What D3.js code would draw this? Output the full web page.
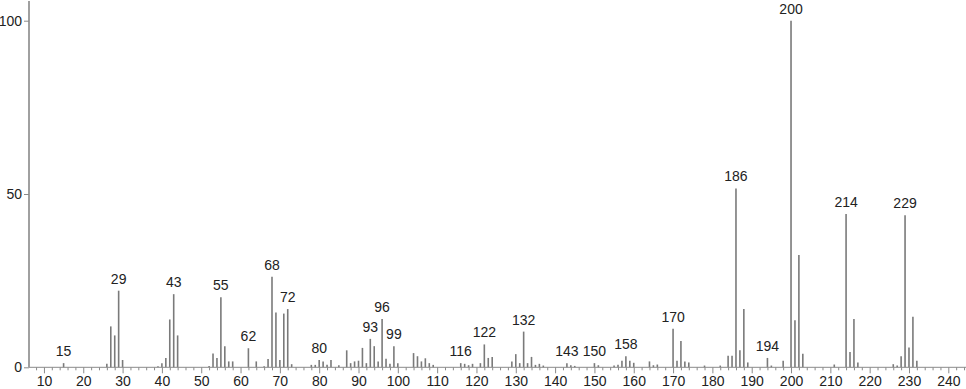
<!DOCTYPE html>
<html>
<head>
<meta charset="utf-8">
<script src="https://cdn.jsdelivr.net/npm/d3@7"></script>
<style>
  html, body { margin: 0; padding: 0; background: #fff; }
  svg { display: block; }
  text { font-family: "Liberation Sans", Arial, sans-serif; fill: #222; }
</style>
</head>
<body>
<div id="chart"></div>
<script>
// m/z values and relative intensities (%)
const mz = [15, 26, 27, 28, 29, 30, 39, 40, 41, 42, 43, 44,
  52, 53, 54, 55, 56, 57, 58, 62, 64, 66, 67, 68, 69, 70, 71, 72, 73,
  78, 79, 80, 81, 82, 83, 85, 87, 88, 89, 90, 91, 92, 93, 94, 95, 96, 97, 98, 99, 100,
  104, 105, 106, 107, 108, 109, 116, 117, 118, 119, 121, 122, 123, 124,
  129, 130, 131, 132, 133, 134, 135, 136, 137, 143, 144, 145, 150, 151, 155, 156,
  157, 158, 159, 160, 164, 165, 166, 170, 171, 172, 173, 174, 178, 182,
  184, 185, 186, 187, 188, 189, 194, 195, 198, 200, 201, 202, 203,
  211, 214, 215, 216, 217, 226, 227, 228, 229, 230, 231, 232];
const intensity = [1.2, 1.0, 11.8, 9.2, 22.1, 2.1, 0.3, 1.2, 2.7, 13.8, 21.1, 9.2,
  0.4, 4.0, 2.7, 20.2, 6.1, 1.7, 1.7, 5.5, 1.7, 0.3, 2.4, 26.1, 15.8, 2.1, 15.5, 16.8, 0.9,
  0.7, 0.7, 2.1, 1.7, 0.7, 2.1, 0.6, 4.9, 1.2, 1.7, 1.9, 5.6, 1.2, 8.2, 6.1, 1.7, 13.9, 2.5, 1.0, 6.1, 1.2,
  4.1, 3.2, 1.7, 2.6, 1.2, 0.7, 1.2, 1.0, 0.6, 1.0, 1.2, 6.6, 2.7, 3.0,
  1.7, 3.8, 1.2, 10.3, 1.2, 3.0, 0.7, 1.0, 0.5, 1.2, 0.6, 0.4, 1.2, 0.6, 0.5, 0.7,
  1.9, 3.2, 1.9, 1.3, 1.7, 0.6, 0.8, 11.1, 1.9, 7.6, 1.7, 1.4, 0.5, 0.5,
  3.3, 3.3, 51.6, 4.9, 16.8, 1.4, 2.7, 0.5, 1.9, 100, 13.6, 32.4, 3.9,
  0.8, 44.2, 4.4, 13.9, 1.4, 0.9, 0.5, 3.2, 43.9, 5.7, 14.6, 1.9];
// peaks that carry an m/z label
const labeledPeaks = [15, 29, 43, 55, 62, 68, 72, 80, 93, 96, 99, 116, 122, 132, 143, 150, 158, 170, 186, 194, 200, 214, 229];
const xTicks = [10, 20, 30, 40, 50, 60, 70, 80, 90, 100, 110, 120, 130, 140, 150, 160, 170, 180, 190, 200, 210, 220, 230, 240];
const yTicks = [0, 50, 100];

const W = 966, H = 389;
const svg = d3.select("#chart").append("svg").attr("width", W).attr("height", H);

const x = d3.scaleLinear().domain([6.2, 244.5]).range([29, 966]);
const y = d3.scaleLinear().domain([0, 100]).range([367.3, 20.7]);

const peaks = mz.map((m, i) => ({ mz: m, v: intensity[i] }));

// peaks
svg.append("g").selectAll("line").data(peaks).join("line")
  .attr("x1", d => x(d.mz)).attr("x2", d => x(d.mz))
  .attr("y1", y(0)).attr("y2", d => y(d.v))
  .attr("stroke", "#7a7a7a").attr("stroke-width", 1.6);

// x axis
const minor = d3.range(8, 245, 2).filter(v => v % 10 !== 0);
const xAxisMinor = d3.axisBottom(x).tickValues(minor).tickSize(3).tickFormat("");
const xAxis = d3.axisBottom(x).tickValues(xTicks).tickSize(6).tickPadding(3).tickFormat(d3.format("d"));
const gxm = svg.append("g").attr("transform", `translate(0,${y(0)})`).call(xAxisMinor);
gxm.select(".domain").remove();
gxm.selectAll("line").attr("stroke", "#8a8a8a");
const gx = svg.append("g").attr("transform", `translate(0,${y(0)})`).call(xAxis);
gx.select(".domain").attr("stroke", "#8a8a8a").attr("d", `M${x.range()[0]},0H${x.range()[1]}`);
gx.selectAll("line").attr("stroke", "#8a8a8a");
gx.selectAll("text").style("font-size", "14px").style("font-family", "Liberation Sans, Arial, sans-serif").attr("fill", "#222");

// y axis
const yAxis = d3.axisLeft(y).tickValues(yTicks).tickSize(5).tickPadding(2).tickFormat(d3.format("d"));
const gy = svg.append("g").attr("transform", `translate(${x.range()[0]},0)`).call(yAxis);
gy.select(".domain").attr("stroke", "#a0a0a0").attr("stroke-width", 2).attr("d", `M0,${y(0)}V1`);
gy.selectAll("line").attr("stroke", "#8a8a8a");
gy.selectAll("text").style("font-size", "14px").style("font-family", "Liberation Sans, Arial, sans-serif").attr("fill", "#222");

// peak labels
svg.append("g").selectAll("text").data(peaks.filter(d => labeledPeaks.includes(d.mz))).join("text")
  .attr("x", d => x(d.mz)).attr("y", d => y(d.v) - 7)
  .attr("text-anchor", "middle")
  .style("font-size", "14px")
  .text(d => d.mz);
</script>
</body>
</html>
